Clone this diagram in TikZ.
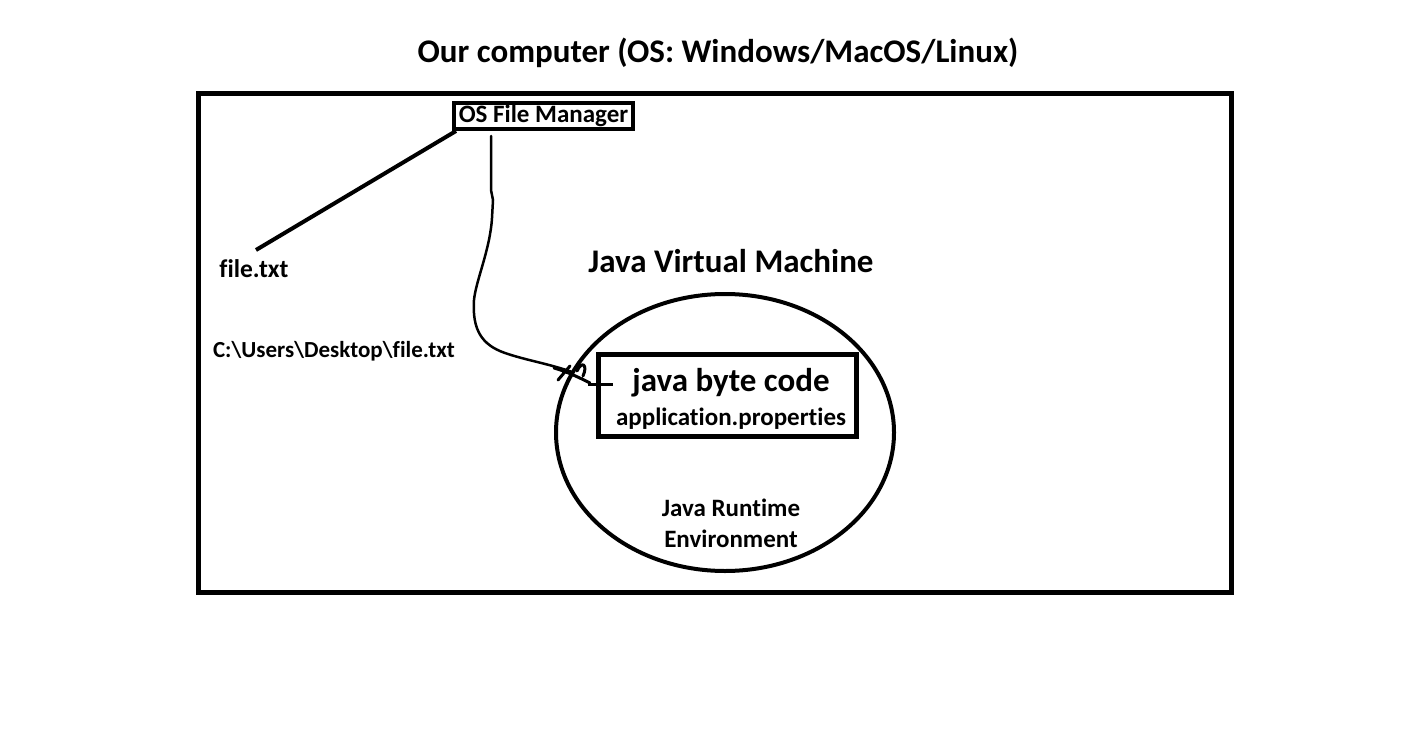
\documentclass[tikz,border=0pt]{standalone}
\usepackage{fontspec}
\setmainfont{Carlito}[Ligatures={NoCommon}]
\usetikzlibrary{shapes.geometric}
\begin{document}
\begin{tikzpicture}[x=1pt, y=-1pt]
\useasboundingbox (0,0) rectangle (1410,741);
\fill[white] (0,0) rectangle (1410,741);

\node[font=\fontsize{33}{36}\selectfont\bfseries] (title) at (718,53) {Our computer (OS: Windows/MacOS/Linux)};
\draw[line width=5pt] (198.5,93.5) rectangle (1231.5,592.5);

\node[draw, line width=4pt, rectangle, inner sep=0pt, minimum width=179pt, minimum height=26pt, font=\fontsize{25}{28}\selectfont\bfseries] (fm) at (543.5,116) {OS File Manager};

\node[font=\fontsize{25.5}{28}\selectfont\bfseries] (file) at (254,269) {file.txt};
\node[font=\fontsize{23}{26}\selectfont\bfseries] (path) at (334,351) {C:\textbackslash Users\textbackslash Desktop\textbackslash file.txt};

\node[font=\fontsize{33}{36}\selectfont\bfseries] (jvmlabel) at (731,261) {Java Virtual Machine};
\node[draw, ellipse, line width=4pt, inner sep=0pt, minimum width=338pt, minimum height=277pt] (jvm) at (725,432.5) {};

\node[draw, rectangle, line width=5pt, inner sep=0pt, minimum width=258pt, minimum height=82pt] (bc) at (727.5,395.5) {};
\node[font=\fontsize{33}{36}\selectfont\bfseries] (code) at (731,383) {java byte code};
\node[font=\fontsize{25}{28}\selectfont\bfseries] (props) at (731,419) {application.properties};

\node[font=\fontsize{25}{31}\selectfont\bfseries, align=center] (jre) at (731,523) {Java Runtime\\Environment};

\coordinate (fileend) at (256,250);
\coordinate (wstart) at (491,136);
\coordinate (knot) at (572,372);

\draw[line width=4pt] ([xshift=4pt]fm.south west) -- (fileend);

\draw[line width=2.5pt, line join=round, line cap=round] (wstart) -- (491,190) -- (493,200) -- (492,218)
  .. controls (490,250) and (476,280) .. (474,300)
  .. controls (472,330) and (482,345) .. (505,353)
  .. controls (525,360) and (550,364) .. (knot);
\draw[line width=3pt, line cap=round] (558,380) -- (570,366) (554,368) .. controls (568,372) and (580,378) .. (590,383)
  (577,371) .. controls (582,360) and (588,365) .. (583,376);
\draw[line width=3pt] (588,384) -- ([xshift=17pt]bc.west |- 0,384);
\end{tikzpicture}
\end{document}
